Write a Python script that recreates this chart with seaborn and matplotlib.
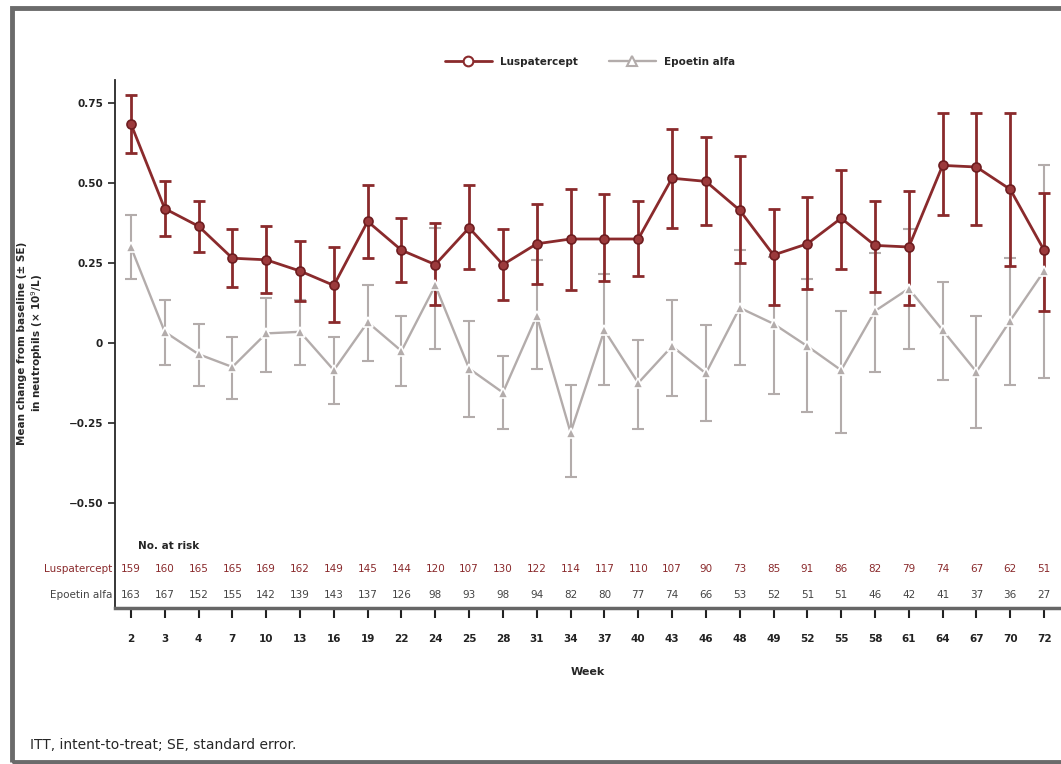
import numpy as np
import pandas as pd
import matplotlib
matplotlib.use("Agg")
import matplotlib.pyplot as plt
import seaborn as sns
from matplotlib.patches import Rectangle
from matplotlib.lines import Line2D

# Data
weeks = [2, 3, 4, 7, 10, 13, 16, 19, 22, 24, 25, 28, 31, 34,
         37, 40, 43, 46, 48, 49, 52, 55, 58, 61, 64, 67, 70, 72]

lusp_mean = [0.685, 0.42, 0.365, 0.265, 0.26, 0.225, 0.18, 0.38, 0.29, 0.245,
             0.36, 0.245, 0.31, 0.325, 0.325, 0.325, 0.515, 0.505, 0.415, 0.275,
             0.31, 0.39, 0.305, 0.30, 0.555, 0.55, 0.48, 0.29]
lusp_hi = [0.775, 0.505, 0.445, 0.355, 0.365, 0.32, 0.30, 0.495, 0.39, 0.375,
           0.495, 0.355, 0.435, 0.48, 0.465, 0.445, 0.67, 0.645, 0.585, 0.42,
           0.455, 0.54, 0.445, 0.475, 0.72, 0.72, 0.72, 0.47]
lusp_lo = [0.595, 0.335, 0.285, 0.175, 0.155, 0.13, 0.065, 0.265, 0.19, 0.12,
           0.23, 0.135, 0.185, 0.165, 0.195, 0.21, 0.36, 0.37, 0.25, 0.12,
           0.17, 0.23, 0.16, 0.12, 0.40, 0.37, 0.24, 0.10]

epo_mean = [0.30, 0.035, -0.035, -0.075, 0.03, 0.035, -0.085, 0.065, -0.025, 0.18,
            -0.08, -0.155, 0.085, -0.28, 0.04, -0.125, -0.01, -0.095, 0.11, 0.06,
            -0.01, -0.085, 0.10, 0.17, 0.04, -0.09, 0.07, 0.225]
epo_hi = [0.40, 0.135, 0.06, 0.02, 0.14, 0.135, 0.02, 0.18, 0.085, 0.36,
          0.07, -0.04, 0.26, -0.13, 0.215, 0.01, 0.135, 0.055, 0.29, 0.27,
          0.20, 0.10, 0.28, 0.355, 0.19, 0.085, 0.265, 0.555]
epo_lo = [0.20, -0.07, -0.135, -0.175, -0.09, -0.07, -0.19, -0.055, -0.135, -0.02,
          -0.23, -0.27, -0.08, -0.42, -0.13, -0.27, -0.165, -0.245, -0.07, -0.16,
          -0.215, -0.28, -0.09, -0.02, -0.115, -0.265, -0.13, -0.11]

lusp_risk = [159, 160, 165, 165, 169, 162, 149, 145, 144, 120, 107, 130, 122, 114,
             117, 110, 107, 90, 73, 85, 91, 86, 82, 79, 74, 67, 62, 51]
epo_risk = [163, 167, 152, 155, 142, 139, 143, 137, 126, 98, 93, 98, 94, 82,
            80, 77, 74, 66, 53, 52, 51, 51, 46, 42, 41, 37, 36, 27]

yticks = [0.75, 0.50, 0.25, 0, -0.25, -0.50]
ytick_labels = ["0.75", "0.50", "0.25", "0", "\u22120.25", "\u22120.50"]

red = "#8a2a2c"
grey = "#b3acab"
arms = ["Luspatercept", "Epoetin alfa"]

pos = np.arange(len(weeks))
df = pd.DataFrame({
    "pos": np.concatenate([pos, pos]),
    "mean": lusp_mean + epo_mean,
    "lo": lusp_lo + epo_lo,
    "hi": lusp_hi + epo_hi,
    "arm": [arms[0]] * len(weeks) + [arms[1]] * len(weeks),
})

sns.set_style("ticks")
plt.rcParams["font.family"] = ["DejaVu Sans"]

fig = plt.figure(figsize=(10.61, 7.64), dpi=100)
ax = fig.add_axes([115 / 1061, 1 - 608 / 764, 1 - 115 / 1061, (608 - 80) / 764])

# error bars first, lines on top
for arm, col, lw in [(arms[1], grey, 1.5), (arms[0], red, 2.0)]:
    d = df[df["arm"] == arm]
    ax.errorbar(d["pos"], d["mean"],
                yerr=[d["mean"] - d["lo"], d["hi"] - d["mean"]],
                fmt="none", ecolor=col, elinewidth=lw, capsize=4.5, capthick=lw,
                zorder=2)

sns.lineplot(data=df, x="pos", y="mean", hue="arm", style="arm",
             palette={arms[0]: red, arms[1]: grey},
             markers={arms[0]: "o", arms[1]: "^"}, dashes=False,
             markersize=6.5, linewidth=2, markeredgewidth=1.2,
             ax=ax, legend=False, zorder=3)

for ln in ax.lines:
    if ln.get_color() == red:
        ln.set_markerfacecolor("#9c3a3c")
        ln.set_markeredgecolor("#6e1d20")
    elif ln.get_color() == grey:
        ln.set_linewidth(1.7)

ax.set_xlim(-0.47, len(weeks) - 0.5)
ax.set_ylim((343 - 608) / 320, (343 - 80) / 320)
ax.set_xticks(pos)
ax.set_xticklabels([str(w) for w in weeks], fontsize=7.5, fontweight="bold")
ax.set_yticks(yticks)
ax.set_yticklabels(ytick_labels, fontsize=7.5, fontweight="bold")
ax.tick_params(axis="x", length=7, width=1.5, pad=12, colors="#222222")
ax.tick_params(axis="y", length=5, width=1.2, colors="#222222")
ax.spines["top"].set_visible(False)
ax.spines["right"].set_visible(False)
ax.spines["left"].set_linewidth(1.3)
ax.spines["bottom"].set_linewidth(2.5)
ax.spines["bottom"].set_color("#666666")
ax.set_xlabel("Week", fontsize=8, fontweight="bold", labelpad=16)
ax.set_ylabel("Mean change from baseline (\u00b1 SE)\nin neutrophils (\u00d7 10$^9$/L)",
              fontsize=7.5, fontweight="bold")
ax.yaxis.set_label_coords((45 - 115) / 946, (608 - 343) / 528)

# number at risk table
tr = ax.get_xaxis_transform()
ax.text(0.2, (608 - 546) / 528, "No. at risk", transform=tr, fontsize=7.5,
        fontweight="bold", ha="left", va="center")
ax.text(-0.003, (608 - 569) / 528, "Luspatercept", transform=ax.transAxes,
        fontsize=7.5, color=red, ha="right", va="center")
ax.text(-0.003, (608 - 595) / 528, "Epoetin alfa", transform=ax.transAxes,
        fontsize=7.5, color="#444444", ha="right", va="center")
for p, a, b in zip(pos, lusp_risk, epo_risk):
    ax.text(p, (608 - 569) / 528, str(a), transform=tr, fontsize=7.5,
            color=red, ha="center", va="center")
    ax.text(p, (608 - 595) / 528, str(b), transform=tr, fontsize=7.5,
            color="#444444", ha="center", va="center")

# legend
handles = [Line2D([], [], color=red, lw=2, marker="o", markersize=7,
                  markerfacecolor="white", markeredgecolor=red, markeredgewidth=1.5),
           Line2D([], [], color=grey, lw=1.7, marker="^", markersize=7,
                  markerfacecolor="white", markeredgecolor=grey, markeredgewidth=1.5)]
fig.legend(handles, arms, loc="center", bbox_to_anchor=(590 / 1061, 1 - 62 / 764),
           ncol=2, frameon=False, handlelength=4.5, columnspacing=3,
           prop={"size": 7.5, "weight": "bold"})

fig.text(30 / 1061, 1 - 745 / 764, "ITT, intent-to-treat; SE, standard error.",
         fontsize=10, va="center", ha="left")

# outer frame
fig.patches.append(Rectangle((12 / 1061, 2 / 764), 1.2, 1 - 10 / 764,
                             transform=fig.transFigure, fill=False,
                             edgecolor="#6b6b6b", linewidth=3.5))

fig.savefig("out.png", dpi=100)
